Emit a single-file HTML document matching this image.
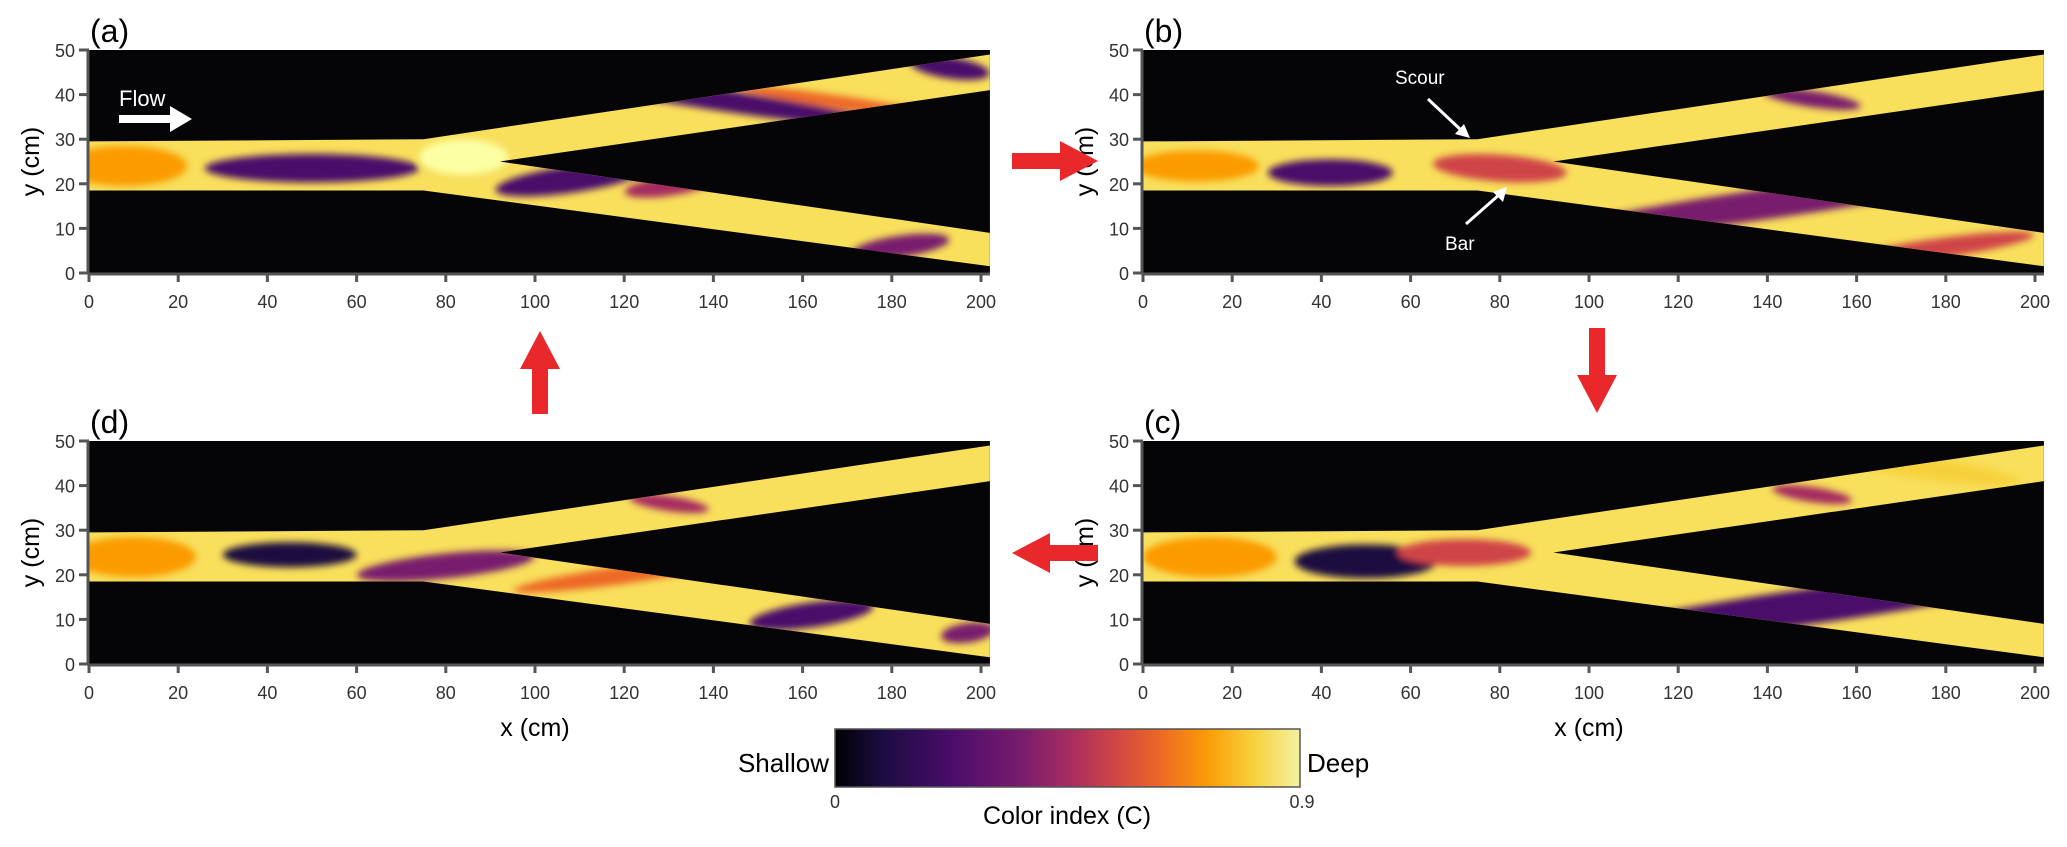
<!DOCTYPE html>
<html><head><meta charset="utf-8"><style>
body{margin:0;background:#fff}
svg{display:block;font-family:"Liberation Sans",Arial,sans-serif}
</style></head><body>
<svg id="fig" width="2067" height="847" viewBox="0 0 2067 847">
<defs>
<filter id="blur" x="-50%" y="-50%" width="200%" height="200%"><feGaussianBlur stdDeviation="3.5"/></filter>
<linearGradient id="cbar" x1="0" x2="1" y1="0" y2="0">
<stop offset="0" stop-color="#000004"/><stop offset="0.1" stop-color="#1b0c41"/><stop offset="0.25" stop-color="#4a0c6b"/><stop offset="0.4" stop-color="#781c6d"/><stop offset="0.5" stop-color="#a52c60"/><stop offset="0.6" stop-color="#cf4446"/><stop offset="0.7" stop-color="#ed6925"/><stop offset="0.8" stop-color="#fb9b06"/><stop offset="0.9" stop-color="#f7d13d"/><stop offset="1" stop-color="#f4f1a0"/>
</linearGradient>
</defs>
<g id="panels"></g>
<g id="overlay">
<rect x="835" y="729" width="465" height="58" fill="url(#cbar)" stroke="#555" stroke-width="1.5"/>
<text x="829" y="772" font-size="26" text-anchor="end">Shallow</text>
<text x="1307" y="772" font-size="26">Deep</text>
<text x="835" y="808" font-size="18" text-anchor="middle" fill="#333">0</text>
<text x="1302" y="808" font-size="18" text-anchor="middle" fill="#333">0.9</text>
<text x="1067" y="824" font-size="25" text-anchor="middle">Color index (C)</text>
<polygon points="1012,153 1060,153 1060,141 1098,161 1060,181 1060,169 1012,169" fill="#e8282b"/>
<polygon points="1589,328 1605,328 1605,375 1617,375 1597,413 1577,375 1589,375" fill="#e8282b"/>
<polygon points="1098,545 1050,545 1050,533 1012,553 1050,573 1050,561 1098,561" fill="#e8282b"/>
<polygon points="532,414 548,414 548,369 560,369 540,331 520,369 532,369" fill="#e8282b"/>
<text x="119" y="106" font-size="22" fill="#fff">Flow</text>
<polygon points="119,115 170,115 170,106 192,119 170,132 170,123 119,123" fill="#fff"/>
<text x="1395" y="84" font-size="19" fill="#fff">Scour</text>
<line x1="1428" y1="99" x2="1462" y2="131" stroke="#fff" stroke-width="3"/>
<polygon points="1470,138 1455,134 1464,124" fill="#fff"/>
<text x="1445" y="250" font-size="19" fill="#fff">Bar</text>
<line x1="1466" y1="224" x2="1500" y2="194" stroke="#fff" stroke-width="3"/>
<polygon points="1507,187 1503,202 1493,192" fill="#fff"/>
</g>
</svg>
<script>
// Channel geometry (cm)
const mainChannel = [[0,29.5],[75,30],[92,25],[75,18.5],[0,18.5]];
const upperBranch = [[75,30],[202,49],[202,41],[92,25]];
const lowerBranch = [[92,25],[202,9],[202,1.5],[75,18.5]];
const xTicks = [0,20,40,60,80,100,120,140,160,180,200];
const yTicks = [0,10,20,30,40,50];
const panelLabels = ["(a)","(b)","(c)","(d)"];
// patches: [cx, cy, rx, ry, rotationDeg, colorIndex]
const patchesA = [[8,24,14,4.5,0,0.72],[50,23.5,24,3.2,0,0.25],[84,26,10,4,0,0.9],[108,21,17,3,8,0.22],[130,19.5,10,2.2,8,0.45],[182,6,11,2.4,8,0.3],[140,39,40,2.4,-8.5,0.28],[193,46,9,2.4,-8.5,0.2],[170,38,25,1.5,-8.5,0.65]];
const patchesB = [[12,24,14,3.5,0,0.78],[42,22.5,14,3,0,0.25],[80,23.5,15,3,-4,0.55],[140,15.5,52,3.4,8,0.3],[150,39,11,1.8,-8.5,0.3],[178,5.5,22,2.2,8,0.55]];
const patchesC = [[15,24,15,4.5,0,0.72],[50,23,16,3.8,0,0.1],[72,25,15,3,0,0.5],[150,13,58,4,8,0.26],[150,38,9,1.7,-8.5,0.4],[175,44,22,2.5,-8.5,0.88]];
const patchesD = [[10,24,14,4.5,0,0.75],[45,24.5,15,2.8,0,0.18],[80,22,20,2.8,6,0.33],[130,36,9,1.7,-8.5,0.4],[162,11,14,2.8,8,0.27],[197,7,6,2.2,8,0.3],[120,20,25,2,8,0.62]];
const patchSets = [patchesA, patchesB, patchesC, patchesD];
const origins = [[89,273],[1143,273],[1143,664],[89,664]];
const SX = 4.46, SY = 4.46;

const inferno = [[0,"#000004"],[0.1,"#1b0c41"],[0.2,"#4a0c6b"],[0.3,"#781c6d"],[0.4,"#a52c60"],[0.5,"#cf4446"],[0.6,"#ed6925"],[0.7,"#fb9b06"],[0.8,"#f7d13d"],[0.9,"#fcffa4"]];
function cmap(v){let best=inferno[0];for(const s of inferno){if(s[0]<=v+1e-9)best=s;}return best[1];}

const NS="http://www.w3.org/2000/svg";
const root=document.getElementById('panels');
function mk(tag,attrs,parent){const e=document.createElementNS(NS,tag);for(const k in attrs)e.setAttribute(k,attrs[k]);parent.appendChild(e);return e;}

origins.forEach((o,i)=>{
  const X=v=>o[0]+v*SX, Y=v=>o[1]-v*SY;
  const g=mk('g',{},root);
  
  
  const clipId='clip'+i;
  const cp=mk('clipPath',{id:clipId},g);
  const pts=arr=>arr.map(p=>X(p[0])+','+Y(p[1])).join(' ');
  [mainChannel,upperBranch,lowerBranch].forEach(a=>mk('polygon',{points:pts(a)},cp));
  const bg=mk('rect',{x:X(0),y:Y(50),width:X(202)-X(0),height:Y(0)-Y(50),fill:'#050507'},g);
  
  
  const inner=mk('g',{'clip-path':'url(#'+clipId+')'},g);
  const base=mk('rect',{x:X(0),y:Y(50),width:X(202)-X(0),height:Y(0)-Y(50),fill:'#f8df5c'},inner);
  
  
  const pg=mk('g',{filter:'url(#blur)'},inner);
  patchSets[i].forEach(p=>{
    const e=mk('ellipse',{cx:X(p[0]),cy:Y(p[1]),rx:p[2]*SX,ry:p[3]*SY,fill:cmap(p[5]),transform:'rotate('+(-p[4])+' '+X(p[0])+' '+Y(p[1])+')'},pg);
    
    
  });
  const ax=mk('g',{stroke:'#555','stroke-width':3},g);
  mk('line',{x1:X(0),y1:Y(0)+1,x2:X(202),y2:Y(0)+1},ax);
  mk('line',{x1:X(0)-1,y1:Y(0)+1,x2:X(0)-1,y2:Y(50)},ax);
  xTicks.forEach(t=>{
    mk('line',{x1:X(t),y1:Y(0),x2:X(t),y2:Y(0)+9},ax);
    const tx=mk('text',{x:X(t),y:Y(0)+35,'font-size':18,'text-anchor':'middle',fill:'#333'},g);
    tx.textContent=t;
    
    
  });
  yTicks.forEach(t=>{
    mk('line',{x1:X(0)-10,y1:Y(t),x2:X(0),y2:Y(t)},ax);
    const tx=mk('text',{x:X(0)-14,y:Y(t)+7,'font-size':18,'text-anchor':'end',fill:'#333'},g);
    tx.textContent=t;
    
    
  });
  const yl=mk('text',{x:0,y:0,'font-size':25,'text-anchor':'middle',transform:'translate('+(X(0)-50)+','+Y(25)+') rotate(-90)'},g);
  yl.textContent='y (cm)';
  
  
  if(i>=2){
    const xl=mk('text',{x:X(100),y:Y(0)+72,'font-size':25,'text-anchor':'middle'},g);
    xl.textContent='x (cm)';
    
    
  }
  const pl=mk('text',{x:X(0)+1,y:Y(50)-8,'font-size':32},g);
  pl.textContent=panelLabels[i];
  
  
});
</script>
</body></html>
